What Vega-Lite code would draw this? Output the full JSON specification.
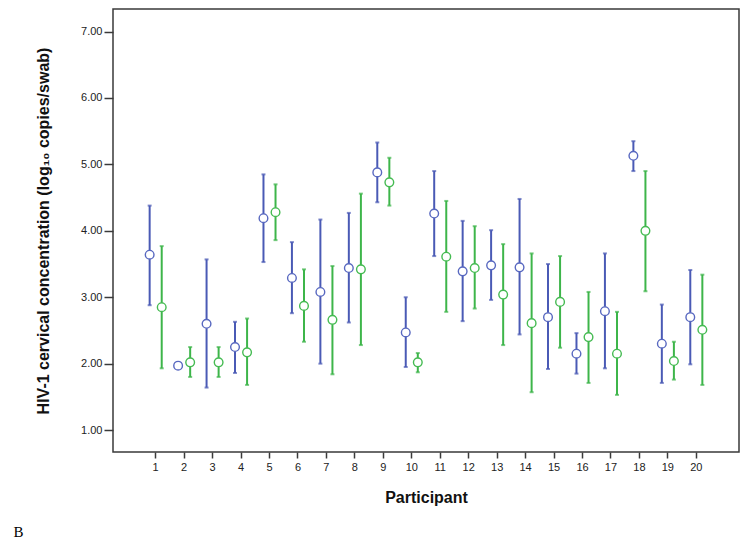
{
  "$schema": "https://vega.github.io/schema/vega-lite/v6.json",
  "autosize": "none",
  "width": 626,
  "height": 443,
  "padding": {"left": 113, "top": 9, "right": 10, "bottom": 94},
  "background": "white",
  "config": {
    "view": {"stroke": "#3a3a3a", "strokeWidth": 1.5},
    "font": "Liberation Sans"
  },
  "title": {
    "text": "B",
    "orient": "bottom",
    "anchor": "start",
    "frame": "bounds",
    "font": "Liberation Serif",
    "fontSize": 15,
    "fontWeight": "normal",
    "color": "#000000",
    "dx": -22,
    "offset": 20
  },
  "data": {
    "values": [
      {"p": 1, "g": "A", "mean": 3.64, "lo": 2.88, "hi": 4.38},
      {"p": 1, "g": "B", "mean": 2.85, "lo": 1.93, "hi": 3.77},
      {"p": 2, "g": "A", "mean": 1.97, "lo": 1.95, "hi": 1.99},
      {"p": 2, "g": "B", "mean": 2.02, "lo": 1.8, "hi": 2.25},
      {"p": 3, "g": "A", "mean": 2.6, "lo": 1.64, "hi": 3.57},
      {"p": 3, "g": "B", "mean": 2.02, "lo": 1.8, "hi": 2.25},
      {"p": 4, "g": "A", "mean": 2.25, "lo": 1.86, "hi": 2.63},
      {"p": 4, "g": "B", "mean": 2.17, "lo": 1.68, "hi": 2.68},
      {"p": 5, "g": "A", "mean": 4.19, "lo": 3.53, "hi": 4.85},
      {"p": 5, "g": "B", "mean": 4.28, "lo": 3.86, "hi": 4.7},
      {"p": 6, "g": "A", "mean": 3.29, "lo": 2.76, "hi": 3.83},
      {"p": 6, "g": "B", "mean": 2.87, "lo": 2.33, "hi": 3.42},
      {"p": 7, "g": "A", "mean": 3.08, "lo": 2.0, "hi": 4.17},
      {"p": 7, "g": "B", "mean": 2.66, "lo": 1.84, "hi": 3.47},
      {"p": 8, "g": "A", "mean": 3.44, "lo": 2.62, "hi": 4.27},
      {"p": 8, "g": "B", "mean": 3.42, "lo": 2.28, "hi": 4.56},
      {"p": 9, "g": "A", "mean": 4.88, "lo": 4.43, "hi": 5.33},
      {"p": 9, "g": "B", "mean": 4.73, "lo": 4.38, "hi": 5.1},
      {"p": 10, "g": "A", "mean": 2.47, "lo": 1.95, "hi": 3.0},
      {"p": 10, "g": "B", "mean": 2.02, "lo": 1.87, "hi": 2.16},
      {"p": 11, "g": "A", "mean": 4.26, "lo": 3.62, "hi": 4.9},
      {"p": 11, "g": "B", "mean": 3.61, "lo": 2.78, "hi": 4.45},
      {"p": 12, "g": "A", "mean": 3.39, "lo": 2.64, "hi": 4.15},
      {"p": 12, "g": "B", "mean": 3.44, "lo": 2.83, "hi": 4.07},
      {"p": 13, "g": "A", "mean": 3.48, "lo": 2.96, "hi": 4.01},
      {"p": 13, "g": "B", "mean": 3.04, "lo": 2.28, "hi": 3.8},
      {"p": 14, "g": "A", "mean": 3.45, "lo": 2.44, "hi": 4.48},
      {"p": 14, "g": "B", "mean": 2.61, "lo": 1.57, "hi": 3.66},
      {"p": 15, "g": "A", "mean": 2.7, "lo": 1.92, "hi": 3.5},
      {"p": 15, "g": "B", "mean": 2.93, "lo": 2.24, "hi": 3.62},
      {"p": 16, "g": "A", "mean": 2.15, "lo": 1.85, "hi": 2.46},
      {"p": 16, "g": "B", "mean": 2.4, "lo": 1.71, "hi": 3.08},
      {"p": 17, "g": "A", "mean": 2.79, "lo": 1.93, "hi": 3.66},
      {"p": 17, "g": "B", "mean": 2.15, "lo": 1.53, "hi": 2.78},
      {"p": 18, "g": "A", "mean": 5.13, "lo": 4.9, "hi": 5.35},
      {"p": 18, "g": "B", "mean": 4.0, "lo": 3.09, "hi": 4.9},
      {"p": 19, "g": "A", "mean": 2.3, "lo": 1.71, "hi": 2.89},
      {"p": 19, "g": "B", "mean": 2.04, "lo": 1.76, "hi": 2.33},
      {"p": 20, "g": "A", "mean": 2.7, "lo": 1.99, "hi": 3.41},
      {"p": 20, "g": "B", "mean": 2.51, "lo": 1.68, "hi": 3.34}
    ]
  },
  "encoding": {
    "x": {
      "field": "p",
      "type": "ordinal",
      "scale": {"type": "band", "paddingInner": 0, "paddingOuter": 1.03},
      "axis": {
        "title": "Participant",
        "labelAngle": 0,
        "domain": false,
        "tickSize": 6,
        "tickColor": "#3a3a3a",
        "tickWidth": 1.5,
        "labelFont": "Liberation Sans",
        "labelFontSize": 11,
        "labelColor": "#222222",
        "labelPadding": 3,
        "titleFont": "Liberation Sans",
        "titleFontSize": 16,
        "titleFontWeight": "bold",
        "titleColor": "#111111",
        "titlePadding": 17
      }
    },
    "xOffset": {
      "field": "g",
      "type": "nominal",
      "scale": {"paddingOuter": 0.18, "paddingInner": 0}
    },
    "color": {
      "field": "g",
      "type": "nominal",
      "scale": {"domain": ["A", "B"], "range": ["#4a5ab5", "#3db54a"]},
      "legend": null
    }
  },
  "layer": [
    {
      "mark": {"type": "rule", "strokeWidth": 2},
      "encoding": {
        "y": {
          "field": "lo",
          "type": "quantitative",
          "scale": {"domain": [0.67, 7.34], "nice": false, "zero": false},
          "axis": {
            "title": "HIV-1 cervical concentration (log₁₀ copies/swab)",
            "values": [1, 2, 3, 4, 5, 6, 7],
            "format": ".2f",
            "grid": false,
            "domain": false,
            "tickSize": 9,
            "tickColor": "#3a3a3a",
            "tickWidth": 1.5,
            "labelFont": "Liberation Sans",
            "labelFontSize": 11,
            "labelColor": "#222222",
            "labelPadding": 2,
            "titleFont": "Liberation Sans",
            "titleFontSize": 16,
            "titleFontWeight": "bold",
            "titleColor": "#111111",
            "titlePadding": 29
          }
        },
        "y2": {"field": "hi"}
      }
    },
    {
      "mark": {"type": "tick", "size": 4, "thickness": 2},
      "encoding": {"y": {"field": "lo", "type": "quantitative"}}
    },
    {
      "mark": {"type": "tick", "size": 4, "thickness": 2},
      "encoding": {"y": {"field": "hi", "type": "quantitative"}}
    },
    {
      "mark": {"type": "point", "shape": "circle", "filled": true, "size": 75, "fill": "white", "strokeWidth": 1.4, "opacity": 1},
      "encoding": {
        "y": {"field": "mean", "type": "quantitative"},
        "stroke": {"field": "g", "type": "nominal", "scale": {"domain": ["A", "B"], "range": ["#5868c0", "#45bb52"]}, "legend": null}
      }
    }
  ]
}
